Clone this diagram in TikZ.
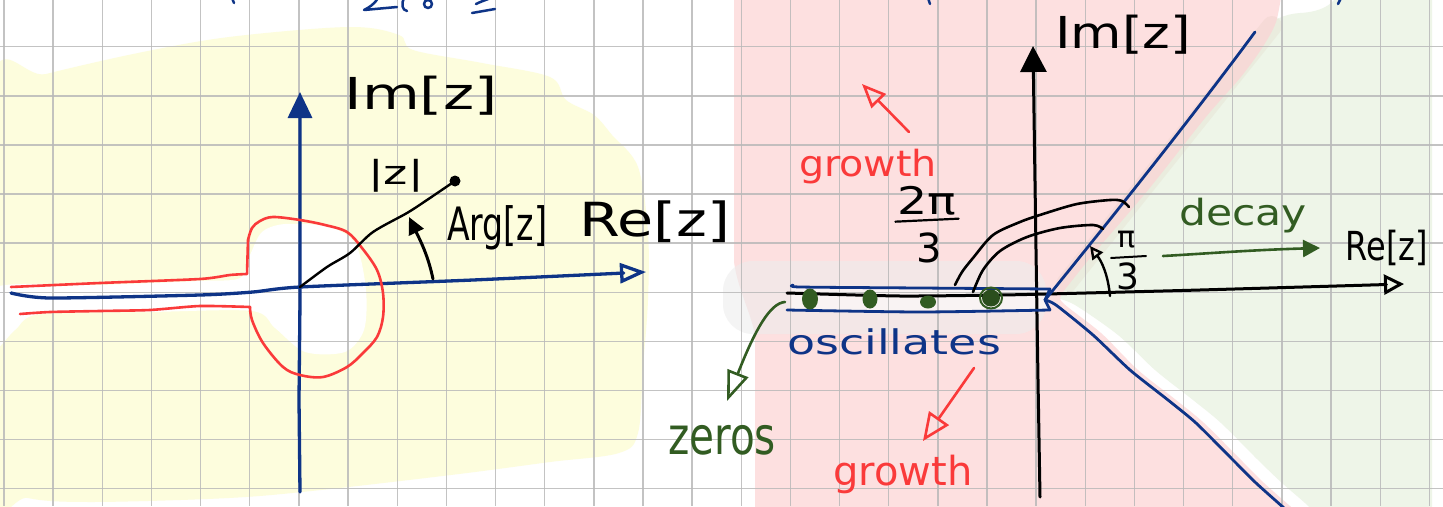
\documentclass[tikz,border=0pt]{standalone}
\usepackage{fontspec}
\setmainfont{DejaVu Sans}
\usetikzlibrary{arrows.meta}
\definecolor{ink}{RGB}{14,52,135}
\definecolor{redink}{RGB}{250,58,58}
\definecolor{grink}{RGB}{50,92,34}
\definecolor{yel}{RGB}{253,253,221}
\definecolor{pnk}{RGB}{253,224,224}
\definecolor{grn}{RGB}{238,245,232}
\definecolor{gridc}{RGB}{185,185,185}
\definecolor{bandc}{RGB}{215,190,170}
\tikzset{
  pen/.style={line width=3pt, line cap=round, line join=round},
  bluepen/.style={pen, draw=ink, line width=3.3pt},
  blackpen/.style={pen, draw=black},
  redpen/.style={pen, draw=redink, line width=2.6pt},
  greenpen/.style={pen, draw=grink, line width=2.6pt},
  gridline/.style={draw=gridc, line width=1.4pt, opacity=0.85},
  hand/.style={inner sep=0pt, font=\fontsize{#1}{#1}\selectfont},
}
\begin{document}
\begin{tikzpicture}[x=1pt, y=-1pt]
\useasboundingbox (0,0) rectangle (1443,506);
\fill[white] (0,0) rectangle (1443,506);

% ---------- left panel background ----------
\fill[yel] plot[smooth cycle, tension=0.55] coordinates {(-10,90) (46,74) (138,53) (229,37) (349,27) (399,35) (413,50) (482,63) (550,77) (566,100) (594,115) (612,135) (638,167) (648,233) (648,300) (643,367) (638,433) (619,453) (550,462) (459,474) (321,490) (229,498) (92,502) (28,498) (-10,480)};
\fill[white] plot[smooth cycle, tension=0.5] coordinates {(-10,289) (100,285) (200,281) (240,278) (250,255) (262,232) (285,224) (330,227) (356,245) (366,290) (364,330) (345,352) (305,352) (275,328) (252,311) (150,312) (40,314) (15,330) (-10,352)};

% ---------- right panel background ----------
\fill[grn] (1048,298) -- (1262,32) .. controls (1270,20) and (1285,14) .. (1300,13) .. controls (1320,12) and (1335,5) .. (1340,-10) -- (1432,-10) -- (1432,516) -- (1318,516) -- plot[smooth] coordinates {(1318,516) (1305,503) (1282,483) (1258,460) (1221,423) (1193,400) (1155,370) (1118,335) (1075,305) (1056,298)} -- cycle;
\fill[pnk] (734,-10) -- (734,262) .. controls (738,290) and (750,310) .. (755,335) -- (755,516) -- (1302,516) -- plot[smooth] coordinates {(1302,516) (1290,506) (1264,483) (1241,460) (1204,423) (1176,400) (1138,370) (1101,333) (1063,303) (1062,294) (1070,283) (1095,252) (1148,190) (1205,118) (1240,78) (1262,48) (1276,22) (1282,-10)} -- cycle;
\draw[line width=20pt, draw=bandc, opacity=0.16, line cap=round] (1066,284) -- (1272,26);
\fill[gray!14, opacity=0.6, rounded corners=30pt] (723,261) rectangle (1046,334);
\fill[white, opacity=0.5] (792,288) rectangle (1048,310);

% ---------- grid ----------
\foreach \i in {0,...,29} \draw[gridline] ({4+49.15*\i},0) -- ({4+49.15*\i},506);
\foreach \j in {1,...,10} \draw[gridline] (0,{-2.4+49.1*\j}) -- (1443,{-2.4+49.1*\j});

% ---------- cut-off writing at the top ----------
\draw[bluepen, line width=2.5pt] (232,-2) -- (234,3);
\draw[bluepen, line width=2.5pt] (378,-2) .. controls (375,4) and (368,8) .. (364,10) -- (397,7);
\draw[bluepen, line width=2.5pt] (404,-2) .. controls (401,4) and (402,10) .. (407,11);
\draw[bluepen, line width=2.5pt] (428,4) circle (4);
\draw[bluepen, line width=2.5pt] (476,4) .. controls (484,0) and (490,-1) .. (492,-3);
\draw[bluepen, line width=2.5pt] (472,13) -- (495,9);
\draw[bluepen, line width=2.5pt] (928,-2) -- (930,4);
\draw[bluepen, line width=2.5pt] (1338,4) -- (1341,-2);

% ---------- left panel ink ----------
\coordinate (O1) at (300,287);
\draw[bluepen, -{Triangle[open, length=26pt, width=20pt]}] plot[smooth, tension=0.4] coordinates {(11,293) (50,298) (200,295) (253,292) (300,287) (473,280) (646,272)};
\draw[bluepen, -{Triangle[length=26pt, width=24pt]}] (300,492) -- (299,400) -- (300,300) -- (300,92);

\draw[redpen] plot[smooth, tension=0.4] coordinates {(11,287) (100,283) (200,279) (230,275) (247,274)} -- (248,240);
\draw[redpen] plot[smooth, tension=0.55] coordinates {(248,240) (252,228) (260,221) (273,217) (300,220) (325,225) (347,232) (362,248) (377,270) (383,293) (383,317) (377,337) (363,353) (347,367) (323,377) (300,375) (283,367) (263,343) (252,320) (250,307)};
\draw[redpen] plot[smooth, tension=0.4] coordinates {(250,307) (200,306) (150,310) (100,311) (50,312) (20,314)};

\node[circle, fill=black, inner sep=0pt, minimum size=11pt] (zpt) at (455,181) {};
\draw[blackpen, line width=2.4pt] plot[smooth, tension=0.5] coordinates {(O1) (327,267) (350,253) (373,232) (407,213) (427,200) (zpt.center)};
\draw[blackpen, -{Triangle[length=17pt, width=16pt]}] (433,279) .. controls (428,255) and (420,240) .. (409,217);

\node[hand=44] (imL) at (421,96) {\scalebox{1.35}[1]{Im[z]}};
\node[hand=33] (absz) at (396,176) {\scalebox{1.4}[1]{|z|}};
\node[hand=46] (argz) at (497,228) {\scalebox{0.72}[1]{Arg[z]}};
\node[hand=47] (reL) at (655,222) {\scalebox{1.25}[1]{Re[z]}};

% ---------- right panel ink ----------
\coordinate (O2) at (1045,300);
\draw[blackpen, -{Triangle[length=26pt, width=26pt]}] (1040,497) -- (1038,380) -- (1036,250) -- (1033,46);
\draw[blackpen, -{Triangle[open, length=20pt, width=20pt]}] plot[smooth, tension=0.4] coordinates {(787,293) (900,296) (1000,295) (1047,294) (1200,290) (1404,284)};

\draw[bluepen, line width=2.8pt] plot[smooth, tension=0.4] coordinates {(793,285) (800,287) (920,288) (1050,289)} -- (O2) -- (1050,310);
\draw[bluepen, line width=2.8pt] plot[smooth, tension=0.4] coordinates {(787,310) (920,312) (1050,310)};
\draw[bluepen, line width=2.8pt] (O2) .. controls (1110,220) and (1190,120) .. (1255,32);
\draw[bluepen, line width=2.8pt] plot[smooth, tension=0.4] coordinates {(O2) (1056,305) (1093,335) (1130,370) (1168,400) (1196,423) (1233,460) (1256,483) (1284,508)};

\fill[grink] (810,299) ellipse (8 and 10.5);
\fill[grink] (870,299) ellipse (7.5 and 9.5);
\fill[grink] (928,302) ellipse (8 and 6.5);
\fill[grink!85!black] (991,298) ellipse (9 and 8.5);
\draw[grink, line width=2pt] (991,298) ellipse (11 and 10.5);

\draw[blackpen, line width=2.6pt] plot[smooth, tension=0.5] coordinates {(955,285) (962,272) (973,258) (993,235) (1020,222) (1043,214) (1077,204) (1110,200) (1122,201) (1129,207)};
\draw[blackpen, line width=2.6pt] plot[smooth, tension=0.5] coordinates {(973,292) (983,270) (1000,251) (1027,237) (1060,228) (1093,225) (1103,229)};
\draw[blackpen, line width=2.4pt, -{Triangle[open, length=13pt, width=13pt]}] (1110,296) .. controls (1108,275) and (1102,262) .. (1090,246);

\draw[greenpen, -{Triangle[length=17pt, width=17pt]}] (1163,256) .. controls (1200,254) and (1250,250) .. (1320,248);
\draw[redpen, -{Triangle[open, length=24pt, width=20pt]}] (909,132) -- (862,84);
\draw[redpen, -{Triangle[open, length=28pt, width=24pt]}] (974,368) -- (923,441);
\draw[greenpen, -{Triangle[open, length=30pt, width=22pt]}] (785,302) .. controls (770,303) and (755,330) .. (727,401);

\node[hand=44] (imR) at (1123,35) {\scalebox{1.2}[1]{Im[z]}};
\node[hand=40] (reR) at (1387,248) {\scalebox{0.8}[1]{Re[z]}};
\node[hand=36, text=redink] (grU) at (868,167) {\scalebox{1.1}[1]{growth}};
\node[hand=40, text=redink] (grD) at (903,474) {growth};
\node[hand=36, text=grink] (decay) at (1243,216) {\scalebox{1.18}[1]{decay}};
\node[hand=34, text=ink] (osc) at (894,342) {\scalebox{1.35}[1]{oscillates}};
\node[hand=52, text=grink] (zeros) at (722,440) {\scalebox{0.78}[1]{zeros}};

% fractions 2pi/3 and pi/3
\node[hand=38] (num2) at (927,201) {\scalebox{1.25}[1]{2π}};
\node[hand=40] (den2) at (929,248) {3};
\path (num2.south west) ++(-2,6) coordinate (b2a);
\path (num2.south east) ++(2,3) coordinate (b2b);
\draw[blackpen, line width=2.2pt] (b2a) -- (b2b);
\node[hand=30] (num1) at (1127,240) {π};
\node[hand=36] (den1) at (1128,276) {3};
\draw[blackpen, line width=2pt] (1111,258) -- (1146,256);
\end{tikzpicture}
\end{document}
